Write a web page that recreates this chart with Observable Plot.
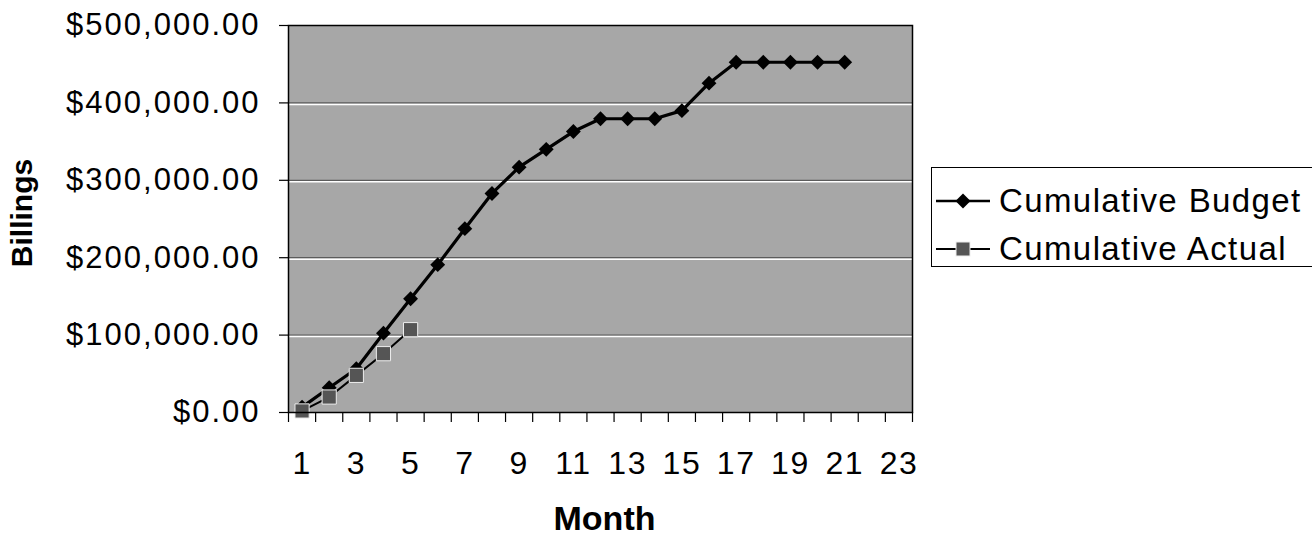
<!DOCTYPE html>
<html><head><meta charset="utf-8">
<script src="https://cdn.jsdelivr.net/npm/d3@7"></script>
<script src="https://cdn.jsdelivr.net/npm/@observablehq/plot@0.6"></script>
<style>
body{margin:0;background:#fff;font-family:"Liberation Sans",Arial,sans-serif;}
#wrap{position:relative;width:1312px;height:540px;overflow:hidden;}
#legend{position:absolute;left:931px;top:167px;width:420px;height:100px;border:1.5px solid #000;background:#fff;box-sizing:border-box;}
.entry{position:absolute;left:2px;height:40px;display:flex;align-items:center;font-size:33px;letter-spacing:1.4px;white-space:nowrap;}
.entry svg{margin-right:7px;}
[aria-label="y-axis tick label"] text{letter-spacing:2px;}
[aria-label="x-axis tick label"] text{letter-spacing:1.5px;}
</style></head>
<body><div id="wrap"></div>
<script>
// Data
const budgetMonths = [1,2,3,4,5,6,7,8,9,10,11,12,13,14,15,16,17,18,19,20,21];
const budgetValues = [7000,32000,56500,102500,147000,191000,237500,283000,317000,340000,363000,379500,379500,379500,390000,425500,452500,452500,452500,452500,452500];
const actualMonths = [1,2,3,4,5];
const actualValues = [2000,20000,48000,76000,107000];
const seriesNames = ["Cumulative Budget","Cumulative Actual"];
const yTicks = [0,100000,200000,300000,400000,500000];
const gridValues = [100000,200000,300000,400000];
const xTickLabels = [1,3,5,7,9,11,13,15,17,19,21,23];
const xBoundaries = d3.range(0.5, 24, 1);

const budgetData = budgetMonths.map((m,i)=>({month:m, value:budgetValues[i]}));
const actualData = actualMonths.map((m,i)=>({month:m, value:actualValues[i]}));
const money = d => "$" + d3.format(",.2f")(d);

const chart = Plot.plot({
  width:1312, height:540,
  marginLeft:288, marginRight:400, marginTop:25, marginBottom:128,
  style:{fontFamily:'"Liberation Sans", Arial, sans-serif', background:"transparent", color:"#000"},
  x:{domain:[0.5,23.5], label:null},
  y:{domain:[0,500000], label:null},
  marks:[
    Plot.frame({fill:"#a7a7a7"}),
    Plot.gridY(gridValues, {stroke:"#333", strokeOpacity:0.8, strokeWidth:1}),
    Plot.gridY(gridValues, {stroke:"#fff", strokeOpacity:1, strokeWidth:1.5, dy:1.5}),
    Plot.axisY(yTicks, {tickSize:9, tickPadding:19, tickFormat:money, fontSize:31, label:null, strokeWidth:1.2}),
    Plot.axisX(xBoundaries, {tickSize:10, tickFormat:()=>"", label:null, strokeWidth:1.2}),
    Plot.axisX(xTickLabels, {tickSize:0, tickPadding:39, fontSize:32, label:null}),
    Plot.line(budgetData, {x:"month", y:"value", stroke:"#000", strokeWidth:3.2}),
    Plot.dot(budgetData, {x:"month", y:"value", symbol:"diamond2", r:6.7, fill:"#000", stroke:"none"}),
    Plot.line(actualData, {x:"month", y:"value", stroke:"#000", strokeWidth:2}),
    Plot.dot(actualData, {x:"month", y:"value", symbol:"square", r:8, fill:"#555", stroke:"#eee", strokeWidth:1}),
    Plot.frame({stroke:"#000", strokeWidth:1.5}),
    Plot.text(["Billings"], {frameAnchor:"left", textAnchor:"middle", dx:-266, dy:-6, rotate:-90, fontWeight:"bold", fontSize:30}),
    Plot.text(["Month"], {frameAnchor:"bottom", textAnchor:"middle", dx:4, dy:117, fontWeight:"bold", fontSize:34, letterSpacing:1.5})
  ]
});
const wrap = document.getElementById("wrap");
wrap.appendChild(chart);

// Legend
const legend = document.createElement("div");
legend.id = "legend";
const sym = [
  '<svg width="58" height="20"><line x1="2" y1="10" x2="56" y2="10" stroke="#000" stroke-width="2.5"/><path d="M29,2.5 L36.5,10 L29,17.5 L21.5,10Z" fill="#000"/></svg>',
  '<svg width="58" height="20"><line x1="2" y1="10" x2="56" y2="10" stroke="#000" stroke-width="2"/><rect x="22" y="3" width="14" height="14" fill="#555" stroke="#eee"/></svg>'
];
seriesNames.forEach((name,i)=>{
  const e = document.createElement("div");
  e.className = "entry";
  e.style.top = (i===0 ? 13 : 61) + "px";
  e.innerHTML = sym[i] + "<span>" + name + "</span>";
  legend.appendChild(e);
});
wrap.appendChild(legend);
</script>
</body></html>
